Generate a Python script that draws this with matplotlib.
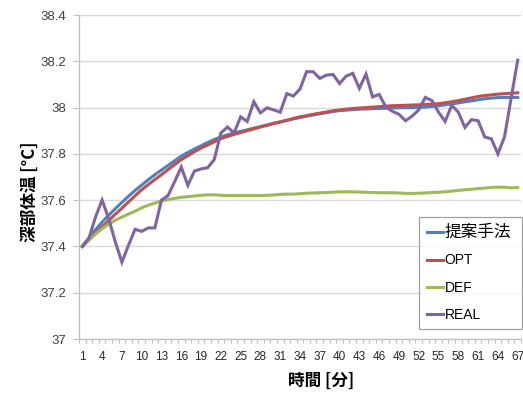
import numpy as np
import matplotlib
matplotlib.use("Agg")
import matplotlib.pyplot as plt
from matplotlib import font_manager

# 時間 [分]
minutes = np.arange(1, 68)

# 深部体温 [°C] 各系列
proposed = [37.400, 37.437, 37.472, 37.505, 37.535, 37.563, 37.590, 37.617, 37.642, 37.665,
            37.688, 37.710, 37.730, 37.750, 37.770, 37.790, 37.806, 37.821, 37.835, 37.849,
            37.862, 37.873, 37.882, 37.890, 37.897, 37.904, 37.911, 37.918, 37.925, 37.932,
            37.938, 37.945, 37.951, 37.957, 37.963, 37.968, 37.973, 37.978, 37.983, 37.987,
            37.989, 37.991, 37.993, 37.994, 37.995, 37.996, 37.997, 37.998, 37.999, 38.000,
            38.000, 38.000, 38.002, 38.005, 38.008, 38.012, 38.016, 38.020, 38.025, 38.029,
            38.034, 38.038, 38.041, 38.043, 38.044, 38.044, 38.044]

opt = [37.400, 37.428, 37.457, 37.485, 37.512, 37.539, 37.565, 37.592, 37.619, 37.645,
       37.667, 37.689, 37.710, 37.732, 37.754, 37.775, 37.792, 37.809, 37.825, 37.838,
       37.852, 37.866, 37.875, 37.884, 37.892, 37.900, 37.908, 37.916, 37.923, 37.931,
       37.938, 37.945, 37.953, 37.960, 37.965, 37.971, 37.976, 37.981, 37.986, 37.990,
       37.993, 37.996, 37.998, 38.000, 38.002, 38.004, 38.006, 38.008, 38.009, 38.010,
       38.011, 38.012, 38.013, 38.015, 38.017, 38.021, 38.025, 38.030, 38.036, 38.042,
       38.048, 38.052, 38.055, 38.058, 38.060, 38.062, 38.064]

default = [37.400, 37.428, 37.453, 37.477, 37.497, 37.513, 37.527, 37.540, 37.552, 37.567,
           37.578, 37.587, 37.596, 37.603, 37.608, 37.612, 37.615, 37.618, 37.621, 37.623,
           37.623, 37.621, 37.620, 37.620, 37.620, 37.620, 37.620, 37.620, 37.621, 37.622,
           37.625, 37.626, 37.626, 37.628, 37.630, 37.631, 37.632, 37.633, 37.634, 37.636,
           37.636, 37.636, 37.635, 37.634, 37.633, 37.632, 37.632, 37.632, 37.631, 37.629,
           37.629, 37.630, 37.631, 37.633, 37.634, 37.636, 37.639, 37.642, 37.645, 37.647,
           37.650, 37.652, 37.655, 37.656, 37.656, 37.653, 37.655]

real = [37.400, 37.435, 37.527, 37.600, 37.520, 37.420, 37.332, 37.405, 37.474, 37.465,
        37.480, 37.480, 37.600, 37.620, 37.680, 37.743, 37.664, 37.726, 37.735, 37.740,
        37.775, 37.890, 37.916, 37.890, 37.960, 37.940, 38.025, 37.977, 37.999, 37.990,
        37.980, 38.060, 38.050, 38.080, 38.155, 38.155, 38.126, 38.140, 38.143, 38.104,
        38.136, 38.148, 38.083, 38.145, 38.046, 38.057, 38.003, 37.984, 37.971, 37.943,
        37.963, 37.990, 38.044, 38.030, 37.980, 37.940, 38.010, 37.980, 37.914, 37.948,
        37.943, 37.873, 37.865, 37.800, 37.873, 38.040, 38.205]

labels = ["提案手法", "OPT", "DEF", "REAL"]
colors = ["#4F81BD", "#C0504D", "#9BBB59", "#8064A2"]

plt.rcParams["font.family"] = ["Liberation Sans", "Noto Sans CJK JP"]

# x軸の数字は細めの書体があればそちらを使う
installed = {f.name for f in font_manager.fontManager.ttflist}
if "Liberation Sans Narrow" in installed:
    xtick_font, xtick_size = "Liberation Sans Narrow", 10
else:
    xtick_font, xtick_size = "Liberation Sans", 8.5

fig = plt.figure(figsize=(5.23, 3.94), dpi=100)
ax = fig.add_axes([79 / 523, 1 - 339 / 394, 442 / 523, 324 / 394])

for series, label, color in zip([proposed, opt, default, real], labels, colors):
    ax.plot(minutes, series, color=color, lw=2.2, label=label, solid_joinstyle="miter")

ax.set_xlim(0.5, 67.5)
ax.set_ylim(37, 38.4)
ax.set_yticks(np.arange(37, 38.41, 0.2))
ax.set_yticklabels(["37", "37.2", "37.4", "37.6", "37.8", "38", "38.2", "38.4"])
ax.set_xticks(minutes[::3])
ax.set_xticks(np.arange(0.5, 68, 1), minor=True)

grey = "#bfbfbf"
ax.grid(axis="y", color="#d9d9d9", lw=1.0)
ax.set_axisbelow(True)
for side in ["top", "right"]:
    ax.spines[side].set_visible(False)
for side in ["left", "bottom"]:
    ax.spines[side].set_color(grey)
    ax.spines[side].set_linewidth(0.9)

ax.tick_params(axis="x", which="major", length=0, pad=9, labelsize=xtick_size, labelcolor="#262626")
ax.tick_params(axis="x", which="minor", length=3, color=grey, width=0.8)
ax.tick_params(axis="y", length=4, color=grey, width=0.8, pad=5, labelsize=9.5, labelcolor="#404040")
for t in ax.get_xticklabels():
    t.set_family(xtick_font)

fig.text(321 / 523, 1 - 381 / 394, "時間 [分]", fontsize=12, fontweight="bold",
         family=["Noto Sans CJK JP"], ha="center", va="center")
fig.text(30 / 523, 1 - 192 / 394, "深部体温 [°C]", fontsize=12, fontweight="bold",
         family=["Noto Sans CJK JP"], ha="center", va="center", rotation=90)

leg = ax.legend(loc="upper left", bbox_to_anchor=(419 / 523, 1 - 326 / 394, 103 / 523, 109 / 394),
                bbox_transform=fig.transFigure, mode="expand", frameon=True, fancybox=False,
                handlelength=1.2, handletextpad=0.1, labelspacing=0.95, borderpad=0.55,
                borderaxespad=0, prop={"family": ["Liberation Sans", "Noto Sans CJK JP"], "size": 10})
leg.get_texts()[0].set_fontsize(12)
leg.get_frame().set_edgecolor("#888888")
leg.get_frame().set_linewidth(0.9)

fig.savefig("out.png", dpi=100)
